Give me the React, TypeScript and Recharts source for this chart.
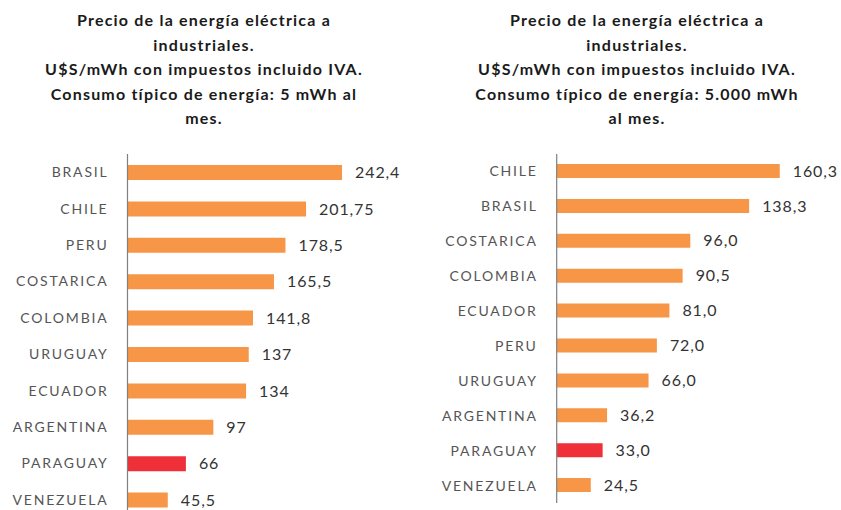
import { BarChart, Bar, XAxis, YAxis, LabelList, Cell } from 'recharts';

// Precio a industriales, consumo 5 mWh/mes
const smallCountries = ['BRASIL', 'CHILE', 'PERU', 'COSTARICA', 'COLOMBIA', 'URUGUAY', 'ECUADOR', 'ARGENTINA', 'PARAGUAY', 'VENEZUELA'];
const smallPrices = [242.4, 201.75, 178.5, 165.5, 141.8, 137, 134, 97, 66, 45.5];

// Precio a industriales, consumo 5.000 mWh/mes
const largeCountries = ['CHILE', 'BRASIL', 'COSTARICA', 'COLOMBIA', 'ECUADOR', 'PERU', 'URUGUAY', 'ARGENTINA', 'PARAGUAY', 'VENEZUELA'];
const largePrices = [160.3, 138.3, 96.0, 90.5, 81.0, 72.0, 66.0, 36.2, 33.0, 24.5];

const smallTitle = [
  'Precio de la energía eléctrica a',
  'industriales.',
  'U$S/mWh con impuestos incluido IVA.',
  'Consumo típico de energía: 5 mWh al',
  'mes.',
];
const largeTitle = [
  'Precio de la energía eléctrica a',
  'industriales.',
  'U$S/mWh con impuestos incluido IVA.',
  'Consumo típico de energía: 5.000 mWh',
  'al mes.',
];

const ORANGE = '#F79646';
const RED = '#EF3038';
const FONT = 'Lato, "Open Sans", sans-serif';

const toComma = (v: number) => String(v).replace('.', ',');
const toCommaFixed = (v: number) => v.toFixed(1).replace('.', ',');

interface PanelProps {
  countries: string[];
  prices: number[];
  title: string[];
  left: number;
  width: number;
  height: number;
  top: number;
  axisWidth: number;
  maxValue: number;
  rightMargin: number;
  barSize: number;
  format: (v: number) => string;
  titleCenter: number;
}

function Panel({ countries, prices, title, left, width, height, top, axisWidth, maxValue, rightMargin, barSize, format, titleCenter }: PanelProps) {
  const data = countries.map((name, i) => ({ name, price: prices[i] }));
  return (
    <div style={{ position: 'absolute', left, top: 0, width, height: 530 }}>
      <div
        style={{
          position: 'absolute',
          left: titleCenter - 210,
          width: 420,
          top: 8,
          textAlign: 'center',
          fontFamily: FONT,
          fontWeight: 700,
          fontSize: 16,
          lineHeight: '24.5px',
          color: '#1a1a1a',
          letterSpacing: 1.2,
          whiteSpace: 'nowrap',
        }}
      >
        {title.map((line) => (
          <div key={line}>{line}</div>
        ))}
      </div>
      <div style={{ position: 'absolute', left: 0, top: 0 }}>
        <BarChart
          width={width}
          height={height}
          data={data}
          layout="vertical"
          barCategoryGap={0}
          margin={{ top, right: rightMargin, bottom: 0, left: 0 }}
        >
          <XAxis type="number" domain={[0, maxValue]} hide />
          <YAxis
            type="category"
            dataKey="name"
            width={axisWidth}
            tickLine={false}
            tickSize={0}
            tickMargin={19}
            axisLine={{ stroke: '#7f7f7f', strokeWidth: 1.2 }}
            tick={{ fill: '#555', fontSize: 14, fontFamily: FONT, letterSpacing: 1.8 }}
            interval={0}
          />
          <Bar dataKey="price" barSize={barSize} isAnimationActive={false}>
            {data.map((d) => (
              <Cell key={d.name} fill={d.name === 'PARAGUAY' ? RED : ORANGE} />
            ))}
            <LabelList
              dataKey="price"
              position="right"
              offset={13}
              formatter={(v: any) => format(Number(v))}
              style={{ fill: '#333', fontSize: 16, fontFamily: FONT, letterSpacing: 0.9 }}
            />
          </Bar>
        </BarChart>
      </div>
    </div>
  );
}

export default function App() {
  return (
    <div style={{ position: 'fixed', left: 0, top: 0, width: 841, height: 510, overflow: 'hidden', background: '#fff' }}>
      <Panel
        countries={smallCountries}
        prices={smallPrices}
        title={smallTitle}
        left={0}
        width={420}
        height={518}
        top={154}
        axisWidth={127.5}
        maxValue={300}
        rightMargin={27}
        barSize={15}
        format={toComma}
        titleCenter={204}
      />
      <Panel
        countries={largeCountries}
        prices={largePrices}
        title={largeTitle}
        left={420}
        width={421}
        height={503}
        top={154}
        axisWidth={136.7}
        maxValue={200}
        rightMargin={6}
        barSize={14}
        format={toCommaFixed}
        titleCenter={217}
      />
    </div>
  );
}
